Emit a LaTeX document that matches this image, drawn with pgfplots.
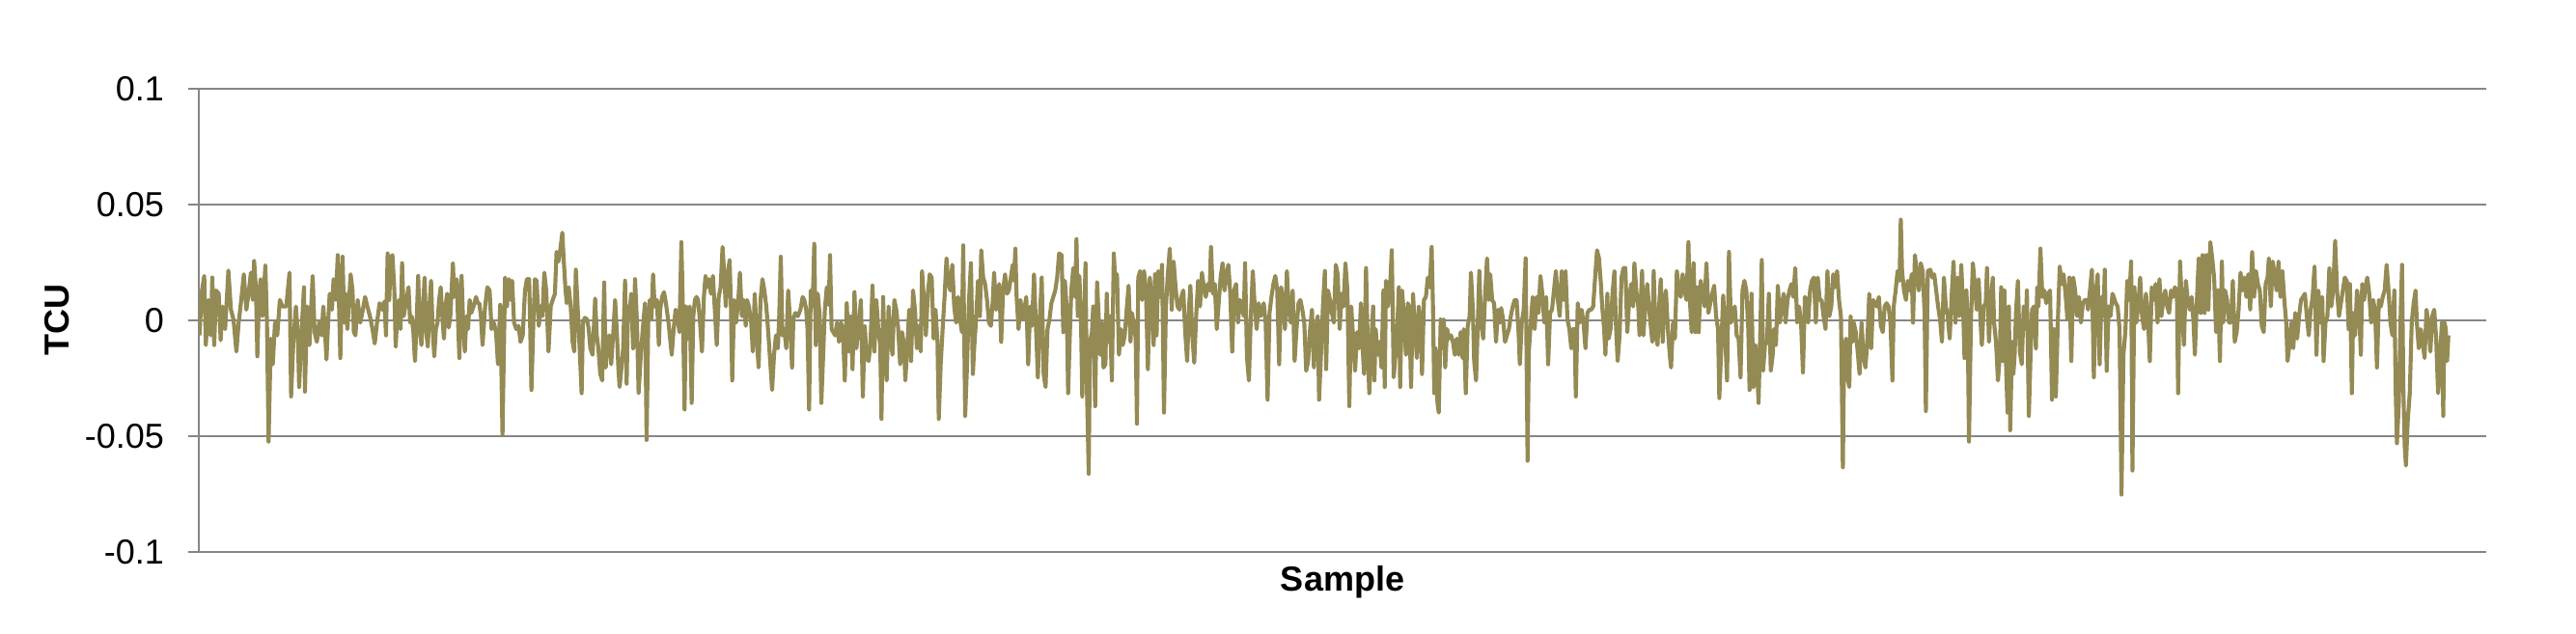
\documentclass[border=0pt]{standalone}
\usepackage{fontspec}
\setmainfont{Liberation Sans}
\usepackage{pgfplots}
\pgfplotsset{compat=1.18}
\definecolor{tculine}{HTML}{948A54}
\definecolor{gridgray}{HTML}{868686}

\begin{document}
\begin{tikzpicture}
\begin{axis}[
  name=ax,
  scale only axis,
  width=658.3pt, height=133.2pt,
  xmin=18, xmax=7128,
  ymin=-0.1, ymax=0.1,
  xtick=\empty,
  ytick={-0.1,-0.05,0,0.05,0.1},
  yticklabels={-0.1,-0.05,0,0.05,0.1},
  yticklabel style={inner sep=0pt, anchor=east},
  yticklabel shift=6.7pt,
  axis x line=bottom, axis y line=left,
  axis line style={draw=gridgray, line width=0.6pt, -},
  tick align=outside, major tick length=3.1pt,
  tick style={draw=gridgray, line width=0.6pt},
  ymajorgrids,
  grid style={draw=gridgray, line width=0.6pt},
  every axis y label/.style={at={(axis description cs:-0.0568,0.5)}, rotate=90, anchor=base, font=\bfseries},
  every axis x label/.style={at={(axis description cs:0.5,-0.0845)}, anchor=base, font=\bfseries},
  ylabel={TCU}, xlabel={Sample},
]
\addplot[color=tculine, line width=1.15pt, line join=round, mark=none] coordinates {
% strip 1
(20,-0.0065) (28,0.0129) (35,0.0192) (40,-0.0107) (48,0.0088) (55,-0.0065) (60,0.0185) (66,-0.0107) (72,0.0129) (80,0.0115)
(86,-0.0086) (92,0.0060) (100,-0.0038) (110,0.0215) (118,0.0046) (126,0.0004) (135,-0.0135) (142,-0.0010) (150,0.0088) (158,0.0199)
(166,0.0046) (174,0.0129) (180,0.0206) (186,0.0088) (190,0.0258) (196,0.0129) (200,-0.0156) (205,0.0088) (210,0.0178) (216,0.0018)
(225,0.0238) (230,-0.0010) (235,-0.0524) (242,-0.0079) (248,-0.0190) (255,-0.0010) (262,-0.0065) (270,0.0088) (278,0.0060) (290,0.0060)
(300,0.0206) (305,-0.0329) (312,-0.0093) (320,0.0060) (326,-0.0065) (330,-0.0288) (338,-0.0038) (345,0.0143) (348,-0.0308) (355,0.0060)
(362,-0.0107) (372,0.0192) (378,-0.0051) (385,-0.0093) (393,-0.0003) (400,-0.0065) (405,0.0060) (410,-0.0038) (415,-0.0169) (420,-0.0010)
(425,0.0115) (432,0.0046) (437,0.0178) (444,0.0088) (450,0.0282) (458,-0.0163) (465,0.0275) (470,-0.0010) (475,0.0115) (480,-0.0038)
(490,0.0199) (496,0.0129) (500,-0.0051) (505,-0.0065) (512,0.0088) (520,-0.0010) (528,0.0046) (535,0.0101) (542,0.0060) (550,0.0018)
(558,-0.0038) (565,-0.0100) (572,-0.0010) (580,0.0074) (588,0.0046) (595,0.0081) (600,-0.0065) (605,0.0289) (610,0.0088) (615,0.0275)
(620,0.0282) (626,0.0129) (630,-0.0114) (636,0.0046) (640,0.0088) (645,-0.0038) (650,0.0247) (655,0.0018) (660,0.0060) (670,0.0143)
(675,-0.0010) (680,0.0018) (685,-0.0051) (690,-0.0176) (695,-0.0010) (700,0.0192) (705,-0.0038) (710,-0.0107) (715,0.0060) (720,0.0185)
(725,-0.0051) (730,-0.0114) (735,0.0060) (740,0.0171) (745,-0.0038) (750,-0.0156) (755,-0.0038) (760,-0.0010) (765,0.0088) (770,0.0143)
(775,0.0018) (780,-0.0079) (785,0.0060) (790,0.0115) (795,-0.0031) (800,0.0018) (808,0.0247) (812,0.0101) (815,0.0129) (820,0.0178)
(824,-0.0010) (828,-0.0163) (832,0.0088) (835,0.0192) (840,-0.0024) (845,-0.0135) (850,0.0018) (855,-0.0038) (860,0.0088) (865,0.0032)
(872,0.0060) (880,0.0101) (885,0.0074) (890,0.0074) (895,0.0018)
% strip 2
(900,-0.0107) (908,0.0060) (915,0.0143) (922,0.0129) (928,-0.0038) (935,-0.0010) (942,-0.0051) (948,-0.0190) (955,0.0067) (962,-0.0496)
(970,0.0185) (976,0.0060) (982,0.0178) (988,0.0088) (992,0.0171) (998,-0.0010) (1005,-0.0038) (1012,-0.0024) (1018,-0.0093) (1025,-0.0065)
(1032,0.0129) (1038,0.0178) (1045,0.0178) (1052,-0.0301) (1058,-0.0010) (1063,0.0178) (1068,0.0171) (1075,-0.0024) (1080,0.0060) (1086,0.0018)
(1092,0.0206) (1098,0.0129) (1105,-0.0135) (1112,0.0060) (1118,0.0088) (1125,0.0115) (1130,0.0296) (1136,0.0254) (1142,0.0310) (1148,0.0379)
(1152,0.0268) (1158,0.0129) (1162,0.0074) (1168,0.0143) (1174,0.0060) (1180,-0.0093) (1185,-0.0135) (1190,0.0219) (1196,0.0046) (1200,-0.0065)
(1208,-0.0315) (1212,-0.0010) (1218,0.0011) (1225,0.0004) (1230,-0.0038) (1235,-0.0121) (1242,-0.0149) (1250,0.0094) (1255,-0.0065) (1260,-0.0121)
(1266,-0.0232) (1272,-0.0260) (1278,0.0164) (1283,-0.0204) (1288,-0.0093) (1294,-0.0065) (1300,-0.0190) (1307,-0.0038) (1312,0.0088) (1318,-0.0065)
(1322,-0.0204) (1326,-0.0288) (1330,-0.0232) (1337,-0.0121) (1343,0.0171) (1348,-0.0274) (1352,0.0060) (1357,0.0032) (1362,0.0115) (1368,-0.0121)
(1374,0.0178) (1380,-0.0010) (1385,-0.0315) (1392,-0.0149) (1398,-0.0038) (1405,0.0074) (1410,-0.0517) (1415,-0.0010) (1420,0.0088) (1425,0.0004)
(1430,0.0199) (1435,0.0060) (1442,0.0088) (1448,-0.0107) (1452,0.0046) (1458,0.0101) (1464,0.0122) (1470,0.0074) (1478,-0.0010) (1483,-0.0079)
(1488,-0.0149) (1494,-0.0038) (1500,0.0046) (1505,0.0018) (1512,-0.0051) (1518,0.0338) (1522,0.0101) (1528,-0.0385) (1532,0.0060) (1538,-0.0079)
(1544,0.0060) (1550,-0.0357) (1555,0.0018) (1560,0.0088) (1565,0.0101) (1570,0.0088) (1576,-0.0010) (1582,-0.0135) (1588,0.0101) (1593,0.0192)
(1598,0.0143) (1604,0.0178) (1610,0.0115) (1616,0.0192) (1622,0.0046) (1628,-0.0107) (1634,0.0101) (1640,0.0143) (1646,0.0317) (1650,0.0226)
(1656,0.0060) (1662,0.0199) (1668,0.0261) (1672,0.0060) (1676,-0.0260) (1682,0.0088) (1688,-0.0010) (1695,0.0088) (1700,0.0206) (1706,0.0018)
(1712,0.0088) (1718,-0.0024) (1722,0.0088) (1728,0.0060) (1735,-0.0010) (1740,-0.0135) (1746,0.0115) (1752,-0.0065) (1758,-0.0204) (1764,0.0088)
(1770,0.0178) (1776,0.0129) (1782,0.0060) (1788,-0.0051) (1794,-0.0176)
% strip 3
(1800,-0.0301) (1806,-0.0149) (1812,-0.0065) (1818,-0.0121) (1822,0.0018) (1827,0.0275) (1832,-0.0065) (1838,-0.0038) (1844,-0.0121) (1850,0.0129)
(1856,-0.0010) (1862,-0.0204) (1866,0.0004) (1872,0.0032) (1880,0.0018) (1888,0.0046) (1895,0.0101) (1900,0.0088) (1906,0.0046) (1910,-0.0038)
(1915,-0.0385) (1920,0.0129) (1926,0.0060) (1931,0.0331) (1936,-0.0107) (1942,0.0115) (1948,0.0018) (1953,-0.0357) (1958,-0.0176) (1964,0.0046)
(1970,0.0143) (1976,0.0067) (1980,0.0282) (1985,-0.0038) (1990,-0.0051) (1996,-0.0065) (2002,-0.0010) (2008,-0.0093) (2014,-0.0010) (2020,-0.0038)
(2026,-0.0260) (2032,0.0074) (2038,-0.0135) (2044,0.0018) (2050,-0.0211) (2056,0.0122) (2062,-0.0121) (2068,-0.0038) (2076,0.0088) (2082,-0.0329)
(2088,-0.0024) (2094,-0.0163) (2100,-0.0176) (2106,-0.0093) (2112,0.0150) (2118,-0.0135) (2124,0.0088) (2130,-0.0038) (2136,-0.0107) (2140,-0.0426)
(2145,0.0101) (2150,-0.0149) (2156,-0.0260) (2162,0.0060) (2168,-0.0065) (2174,-0.0149) (2180,0.0088) (2186,0.0046) (2192,-0.0038) (2198,-0.0190)
(2204,-0.0051) (2210,-0.0107) (2214,-0.0260) (2220,-0.0121) (2226,0.0046) (2232,-0.0176) (2238,0.0129) (2244,0.0046) (2250,-0.0121) (2256,-0.0024)
(2262,-0.0135) (2266,0.0213) (2272,0.0088) (2278,-0.0065) (2284,0.0115) (2290,0.0199) (2296,0.0185) (2302,-0.0079) (2308,0.0046) (2314,-0.0093)
(2318,-0.0426) (2324,-0.0190) (2330,-0.0038) (2336,0.0101) (2342,0.0268) (2348,0.0157) (2354,0.0129) (2360,0.0240) (2366,0.0060) (2372,-0.0010)
(2378,0.0101) (2384,0.0004) (2390,-0.0051) (2394,0.0324) (2400,-0.0413) (2406,-0.0190) (2412,0.0088) (2418,0.0247) (2424,-0.0232) (2428,-0.0121)
(2434,0.0004) (2440,0.0171) (2446,0.0018) (2450,0.0303) (2456,0.0185) (2462,0.0157) (2468,0.0088) (2474,-0.0010) (2480,-0.0024) (2486,0.0088)
(2490,0.0206) (2496,0.0046) (2500,0.0088) (2506,0.0157) (2512,-0.0093) (2518,0.0129) (2524,0.0199) (2530,0.0115) (2536,0.0129) (2542,0.0185)
(2548,0.0240) (2552,0.0171) (2556,0.0310) (2560,0.0101) (2566,-0.0038) (2572,0.0088) (2578,0.0004) (2584,0.0046) (2590,0.0101) (2596,-0.0190)
(2602,0.0060) (2608,-0.0024) (2614,0.0199) (2620,-0.0024) (2626,-0.0246) (2632,0.0004) (2638,0.0185) (2644,-0.0232) (2650,-0.0288) (2656,-0.0038)
(2662,0.0004) (2668,0.0074) (2674,0.0101) (2680,0.0129) (2686,0.0185) (2692,0.0289)
% strip 4
(2700,0.0282) (2705,-0.0051) (2710,0.0171) (2716,0.0046) (2720,-0.0315) (2725,-0.0079) (2730,0.0129) (2736,0.0226) (2742,0.0101) (2746,0.0351)
(2750,0.0018) (2755,0.0192) (2760,0.0004) (2764,-0.0329) (2770,-0.0010) (2774,0.0247) (2778,-0.0260) (2784,-0.0663) (2788,-0.0093) (2794,-0.0051)
(2798,0.0060) (2804,-0.0371) (2810,0.0164) (2815,0.0018) (2820,-0.0149) (2826,-0.0010) (2830,-0.0204) (2836,-0.0190) (2840,0.0115) (2845,-0.0093)
(2850,0.0018) (2856,-0.0260) (2862,0.0289) (2867,0.0157) (2872,0.0199) (2878,-0.0149) (2884,-0.0038) (2890,-0.0107) (2896,-0.0065) (2902,0.0046)
(2908,0.0150) (2914,-0.0093) (2918,0.0032) (2924,-0.0010) (2930,-0.0079) (2934,-0.0447) (2938,0.0185) (2944,0.0213) (2950,0.0088) (2956,0.0213)
(2962,0.0129) (2968,-0.0211) (2974,0.0185) (2980,0.0060) (2986,-0.0107) (2990,0.0199) (2995,-0.0065) (3000,0.0213) (3006,0.0101) (3012,0.0240)
(3018,-0.0399) (3024,0.0060) (3030,0.0199) (3036,0.0310) (3042,0.0046) (3048,0.0254) (3054,0.0143) (3060,0.0060) (3066,0.0046) (3072,0.0101)
(3078,0.0129) (3084,-0.0051) (3090,-0.0176) (3096,0.0060) (3100,0.0150) (3106,-0.0065) (3112,-0.0183) (3118,0.0018) (3124,0.0171) (3130,0.0060)
(3136,0.0206) (3142,0.0143) (3148,0.0101) (3154,0.0157) (3160,0.0129) (3164,0.0317) (3170,0.0115) (3176,0.0157) (3182,-0.0038) (3188,0.0074)
(3194,0.0185) (3200,0.0247) (3206,0.0129) (3212,0.0199) (3218,0.0240) (3224,0.0115) (3230,-0.0135) (3236,0.0129) (3242,0.0157) (3248,-0.0010)
(3254,0.0088) (3260,0.0060) (3266,0.0018) (3270,0.0247) (3276,-0.0163) (3282,-0.0260) (3288,0.0018) (3294,0.0213) (3300,0.0060) (3306,-0.0038)
(3312,0.0074) (3318,0.0018) (3324,0.0046) (3328,0.0074) (3334,-0.0010) (3340,-0.0343) (3346,0.0032) (3352,0.0101) (3358,0.0157) (3364,0.0192)
(3370,0.0129) (3376,-0.0190) (3382,0.0143) (3388,0.0088) (3394,-0.0038) (3400,0.0213) (3406,0.0046) (3412,-0.0010) (3418,0.0129) (3424,-0.0176)
(3430,-0.0038) (3436,0.0074) (3442,0.0088) (3448,0.0046) (3454,-0.0010) (3460,-0.0218) (3466,-0.0176) (3472,-0.0038) (3478,0.0046) (3484,-0.0204)
(3490,-0.0038) (3496,0.0018) (3500,-0.0343) (3506,-0.0149) (3512,0.0060) (3518,0.0213) (3522,-0.0211) (3528,0.0129) (3534,0.0088) (3540,0.0032)
(3546,-0.0010) (3552,0.0240) (3558,0.0199) (3564,-0.0038) (3570,0.0115) (3576,0.0060) (3582,0.0247) (3588,0.0129) (3594,-0.0371)
% strip 5
(3600,0.0060) (3612,-0.0218) (3618,-0.0051) (3624,-0.0121) (3630,0.0074) (3636,-0.0135) (3640,-0.0232) (3646,0.0226) (3652,-0.0149) (3656,-0.0315)
(3662,-0.0107) (3668,0.0060) (3672,-0.0260) (3676,-0.0038) (3682,-0.0149) (3688,-0.0093) (3694,-0.0204) (3700,0.0129) (3704,-0.0288) (3708,0.0171)
(3714,0.0060) (3720,0.0129) (3726,0.0303) (3732,-0.0246) (3736,-0.0176) (3742,-0.0065) (3748,0.0143) (3752,-0.0288) (3758,0.0129) (3764,0.0018)
(3770,-0.0149) (3776,0.0074) (3780,0.0046) (3786,-0.0288) (3792,0.0115) (3798,-0.0038) (3804,-0.0163) (3810,0.0060) (3816,-0.0010) (3820,-0.0232)
(3826,0.0088) (3832,0.0101) (3838,0.0185) (3844,0.0143) (3850,0.0317) (3854,0.0060) (3858,-0.0315) (3862,-0.0121) (3868,-0.0357) (3872,-0.0399)
(3878,0.0004) (3882,-0.0121) (3888,0.0004) (3892,-0.0204) (3898,-0.0038) (3904,-0.0079) (3910,-0.0065) (3916,-0.0093) (3922,-0.0149) (3928,-0.0079)
(3934,-0.0149) (3940,-0.0051) (3946,-0.0163) (3950,-0.0038) (3956,-0.0315) (3962,-0.0024) (3968,0.0018) (3972,0.0206) (3978,0.0046) (3982,-0.0176)
(3988,-0.0260) (3994,0.0018) (3998,0.0213) (4004,-0.0010) (4010,-0.0079) (4016,0.0101) (4022,0.0268) (4028,0.0088) (4032,0.0199) (4038,0.0088)
(4044,0.0074) (4050,-0.0093) (4056,0.0046) (4062,-0.0010) (4066,0.0053) (4072,0.0004) (4078,-0.0093) (4084,-0.0065) (4090,-0.0038) (4096,0.0018)
(4102,0.0060) (4108,0.0088) (4114,0.0088) (4120,-0.0051) (4124,-0.0190) (4130,-0.0010) (4136,0.0046) (4142,0.0268) (4148,-0.0607) (4152,-0.0135)
(4158,-0.0010) (4164,0.0101) (4170,-0.0038) (4176,0.0101) (4182,0.0032) (4188,0.0192) (4194,0.0115) (4200,-0.0010) (4206,0.0101) (4212,-0.0190)
(4218,0.0032) (4224,0.0046) (4230,0.0129) (4236,0.0213) (4242,0.0088) (4248,0.0018) (4254,0.0213) (4260,0.0088) (4266,0.0213) (4272,0.0004)
(4278,-0.0038) (4284,-0.0121) (4288,-0.0038) (4294,-0.0038) (4298,-0.0329) (4304,0.0074) (4310,-0.0010) (4316,0.0046) (4322,-0.0010) (4328,-0.0121)
(4334,0.0032) (4340,0.0046) (4346,0.0046) (4352,0.0060) (4358,0.0185) (4364,0.0303) (4370,0.0268) (4376,0.0157) (4380,0.0060) (4386,-0.0038)
(4390,-0.0149) (4396,0.0115) (4400,-0.0079) (4406,-0.0038) (4412,0.0115) (4418,0.0213) (4422,0.0004) (4428,-0.0176) (4434,-0.0065) (4440,0.0185)
(4446,0.0226) (4452,0.0226) (4458,-0.0051) (4464,0.0088) (4470,0.0157) (4476,0.0060) (4480,0.0247) (4486,0.0129) (4492,0.0060) (4496,-0.0065)
% strip 6
(4500,0.0088) (4504,0.0213) (4508,-0.0065) (4514,0.0060) (4520,0.0157) (4526,0.0046) (4530,-0.0010) (4536,-0.0093) (4540,0.0213) (4546,-0.0051)
(4552,-0.0107) (4558,0.0088) (4562,0.0178) (4568,-0.0093) (4572,0.0060) (4578,0.0129) (4584,-0.0038) (4590,-0.0149) (4594,-0.0204) (4600,-0.0010)
(4606,-0.0079) (4612,0.0213) (4618,0.0129) (4624,0.0101) (4630,0.0199) (4636,0.0129) (4642,0.0088) (4648,0.0338) (4652,0.0101) (4658,-0.0051)
(4664,0.0247) (4670,-0.0051) (4676,0.0143) (4680,-0.0051) (4686,0.0171) (4692,0.0129) (4698,0.0060) (4704,0.0247) (4710,0.0032) (4716,0.0074)
(4722,0.0115) (4728,0.0150) (4734,0.0018) (4740,-0.0038) (4744,-0.0336) (4750,-0.0121) (4756,0.0108) (4762,-0.0065) (4768,-0.0260) (4774,0.0296)
(4780,-0.0010) (4786,0.0018) (4792,0.0060) (4798,-0.0065) (4804,-0.0079) (4810,-0.0246) (4816,0.0129) (4822,0.0171) (4828,0.0129) (4834,-0.0038)
(4838,-0.0301) (4844,0.0115) (4850,-0.0288) (4856,-0.0107) (4862,-0.0232) (4866,-0.0357) (4872,-0.0010) (4876,0.0261) (4880,-0.0218) (4886,-0.0107)
(4892,-0.0093) (4898,0.0115) (4904,-0.0218) (4910,-0.0149) (4914,-0.0038) (4920,-0.0107) (4926,0.0150) (4932,-0.0010) (4938,0.0060) (4944,0.0115)
(4950,-0.0010) (4956,0.0088) (4962,0.0129) (4968,0.0157) (4974,0.0101) (4980,0.0226) (4986,-0.0010) (4992,0.0060) (4998,-0.0010) (5004,-0.0225)
(5010,0.0101) (5016,0.0088) (5020,-0.0010) (5026,0.0129) (5032,0.0171) (5038,0.0185) (5044,-0.0010) (5050,0.0185) (5056,0.0088) (5062,0.0088)
(5068,0.0018) (5074,-0.0038) (5080,0.0213) (5086,0.0018) (5092,0.0060) (5098,0.0199) (5104,0.0143) (5110,0.0213) (5116,0.0088) (5122,0.0018)
(5128,-0.0635) (5132,-0.0121) (5138,-0.0079) (5144,-0.0260) (5148,-0.0288) (5152,0.0018) (5158,-0.0093) (5162,-0.0010) (5168,-0.0051) (5174,-0.0135)
(5180,-0.0232) (5186,-0.0010) (5192,-0.0149) (5198,-0.0204) (5204,-0.0093) (5210,0.0115) (5216,-0.0121) (5222,0.0088) (5228,0.0074) (5234,0.0060)
(5240,0.0101) (5246,-0.0024) (5252,-0.0051) (5258,0.0060) (5264,0.0074) (5270,0.0060) (5276,-0.0010) (5282,-0.0260) (5286,0.0060) (5292,0.0129)
(5298,0.0213) (5304,0.0171) (5308,0.0435) (5312,0.0213) (5318,0.0129) (5324,0.0088) (5330,0.0171) (5336,0.0129) (5342,0.0199) (5346,-0.0010)
(5352,0.0282) (5358,0.0199) (5364,0.0129) (5370,0.0247) (5376,0.0213) (5382,0.0032) (5386,-0.0392) (5392,0.0213)
% strip 7
(5400,0.0219) (5406,0.0185) (5412,0.0199) (5418,0.0129) (5424,0.0060) (5430,0.0004) (5436,-0.0093) (5442,0.0185) (5448,0.0060) (5454,0.0018)
(5460,-0.0079) (5466,0.0101) (5472,0.0254) (5478,-0.0010) (5484,0.0185) (5490,0.0018) (5496,0.0240) (5502,0.0046) (5506,-0.0163) (5512,0.0129)
(5516,-0.0010) (5520,-0.0524) (5526,-0.0010) (5532,0.0247) (5538,0.0157) (5544,0.0046) (5550,0.0178) (5556,-0.0010) (5560,-0.0107) (5566,0.0060)
(5572,0.0074) (5576,0.0226) (5582,-0.0093) (5588,0.0074) (5594,0.0185) (5598,-0.0010) (5604,-0.0093) (5610,-0.0260) (5616,-0.0149) (5620,0.0143)
(5626,-0.0176) (5630,0.0129) (5636,-0.0232) (5640,-0.0399) (5644,0.0060) (5648,-0.0475) (5654,-0.0093) (5658,-0.0232) (5662,-0.0149) (5666,0.0032)
(5672,0.0171) (5678,-0.0135) (5684,-0.0190) (5690,0.0060) (5696,-0.0038) (5700,0.0129) (5706,-0.0413) (5712,-0.0121) (5716,0.0046) (5722,0.0060)
(5728,-0.0121) (5732,0.0143) (5736,0.0060) (5742,0.0310) (5748,0.0101) (5754,0.0129) (5760,0.0074) (5766,0.0115) (5772,0.0129) (5778,-0.0343)
(5784,-0.0038) (5790,-0.0329) (5796,-0.0010) (5802,0.0233) (5808,0.0157) (5814,0.0199) (5820,0.0115) (5826,0.0004) (5832,0.0185) (5838,-0.0176)
(5844,0.0185) (5850,0.0129) (5856,0.0018) (5862,0.0101) (5868,-0.0010) (5874,0.0074) (5880,0.0088) (5886,0.0088) (5890,0.0046) (5896,0.0129)
(5902,0.0219) (5908,-0.0246) (5914,0.0115) (5920,0.0199) (5926,-0.0190) (5932,0.0101) (5938,0.0018) (5942,0.0219) (5948,-0.0218) (5954,0.0060)
(5960,0.0018) (5966,0.0115) (5970,0.0101) (5976,0.0074) (5982,0.0060) (5988,-0.0038) (5994,-0.0753) (6000,-0.0149) (6006,-0.0051) (6012,0.0171)
(6018,0.0088) (6024,0.0254) (6028,-0.0649) (6034,0.0143) (6040,-0.0010) (6046,0.0060) (6052,0.0185) (6058,0.0018) (6064,-0.0038) (6070,0.0115)
(6076,0.0018) (6082,-0.0176) (6088,0.0143) (6094,0.0088) (6100,0.0157) (6106,-0.0010) (6112,0.0178) (6118,0.0018) (6124,0.0088) (6130,0.0129)
(6136,0.0060) (6142,0.0032) (6148,0.0129) (6154,0.0101) (6160,0.0143) (6166,0.0129) (6170,-0.0315) (6176,0.0254) (6182,0.0060) (6188,-0.0107)
(6194,0.0171) (6200,0.0088) (6206,0.0046) (6212,0.0101) (6218,-0.0010) (6222,-0.0149) (6228,0.0074) (6234,0.0268) (6240,0.0032) (6246,0.0282)
(6252,0.0032) (6258,0.0282) (6264,0.0046) (6270,0.0338) (6276,0.0268) (6282,0.0185) (6288,-0.0051) (6294,0.0129)
% strip 8
(6300,-0.0176) (6306,0.0254) (6310,-0.0010) (6316,0.0129) (6322,0.0088) (6328,-0.0010) (6334,-0.0010) (6340,0.0171) (6346,-0.0093) (6352,-0.0051)
(6358,0.0046) (6364,0.0206) (6370,0.0129) (6376,0.0185) (6382,0.0101) (6388,0.0199) (6394,0.0046) (6400,0.0296) (6406,0.0101) (6412,0.0213)
(6418,0.0157) (6424,0.0129) (6430,-0.0024) (6436,-0.0051) (6442,0.0157) (6448,0.0185) (6452,0.0268) (6458,0.0060) (6464,0.0254) (6470,0.0199)
(6476,0.0129) (6482,0.0254) (6488,0.0101) (6494,0.0213) (6500,0.0088) (6506,-0.0010) (6510,-0.0176) (6516,-0.0107) (6522,-0.0010) (6528,-0.0121)
(6534,0.0032) (6540,-0.0079) (6546,0.0018) (6552,0.0088) (6558,0.0101) (6564,0.0115) (6570,0.0018) (6576,-0.0065) (6582,0.0046) (6588,0.0101)
(6594,0.0233) (6600,-0.0149) (6606,0.0129) (6612,-0.0010) (6618,0.0101) (6622,-0.0176) (6628,-0.0010) (6634,0.0018) (6640,0.0226) (6646,0.0060)
(6652,0.0129) (6658,0.0344) (6664,0.0129) (6670,0.0018) (6676,0.0074) (6682,0.0129) (6688,0.0185) (6694,0.0171) (6700,-0.0038) (6704,0.0157)
(6710,-0.0315) (6714,0.0032) (6720,-0.0065) (6726,0.0129) (6732,0.0060) (6738,-0.0149) (6742,0.0157) (6748,0.0088) (6752,0.0143) (6758,0.0185)
(6764,0.0115) (6770,-0.0010) (6776,0.0088) (6782,0.0046) (6788,-0.0204) (6794,0.0088) (6800,0.0060) (6806,0.0101) (6812,0.0129) (6818,0.0240)
(6824,0.0129) (6830,-0.0010) (6836,-0.0065) (6842,0.0129) (6846,-0.0288) (6850,-0.0531) (6856,-0.0357) (6862,0.0046) (6866,0.0240) (6870,-0.0288)
(6874,-0.0538) (6878,-0.0628) (6884,-0.0426) (6890,-0.0315) (6896,-0.0010) (6902,0.0074) (6908,0.0129) (6912,-0.0010) (6918,-0.0121) (6924,-0.0038)
(6930,-0.0093) (6936,-0.0163) (6942,0.0046) (6948,-0.0010) (6954,-0.0135) (6960,0.0018) (6966,0.0046) (6972,-0.0079) (6978,-0.0315) (6984,-0.0149)
(6990,-0.0010) (6994,-0.0413) (6998,-0.0010) (7002,-0.0038) (7006,-0.0176) (7010,-0.0065)
};
\end{axis}
\path ([xshift=-57.2pt,yshift=-23.5pt]ax.south west) rectangle ([xshift=25.8pt,yshift=25.6pt]ax.north east);
\end{tikzpicture}
\end{document}
